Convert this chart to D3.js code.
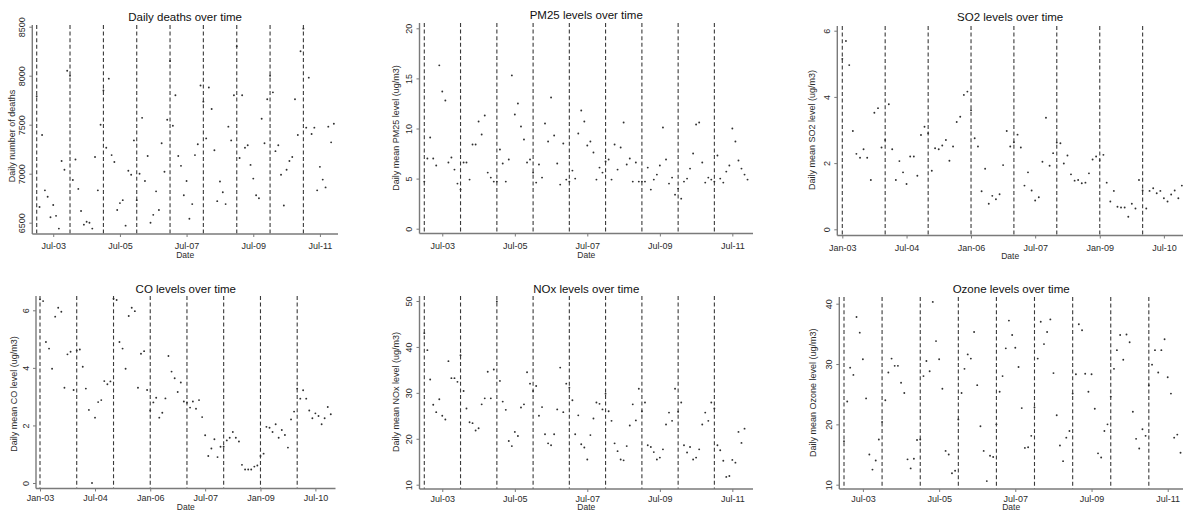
<!DOCTYPE html>
<html>
<head>
<meta charset="utf-8">
<script src="https://cdn.jsdelivr.net/npm/d3@7"></script>
<style>
  body { margin: 0; background: #fff; }
  svg { display: block; font-family: "Liberation Sans", Arial, sans-serif; }
</style>
</head>
<body>
<div id="chart"></div>
<script>
/* six monthly scatter panels with dashed year lines */

// monthly series, first value = Jan 2003
const deaths = [7790, 6660, 7395, 6830, 6765, 6555, 6680, 6570, 6440, 7130, 7040, 8050,
  8000, 6935, 7145, 6845, 6620, 6480, 6510, 6500, 6440, 7170, 6830, 7500,
  7850, 7265, 7970, 7190, 7120, 6630, 6700, 6730, 6470, 7030, 6990, 7340,
  6730, 7000, 7570, 6925, 7180, 6500, 6580, 6820, 6630, 7310, 7020, 7550,
  8150, 7490, 7800, 7180, 7080, 6780, 6925, 6540, 6690, 7190, 7300, 7900,
  7735, 7360, 7880, 7660, 7240, 6720, 6920, 6810, 6690, 7480, 7340, 7800,
  8300, 7160, 7800, 7265, 7290, 7090, 6950, 6780, 6750, 7560, 7310, 7760,
  8000, 7830, 7230, 7290, 6990, 6675, 7040, 7130, 7170, 7760, 7395, 8250,
  8480, 7470, 7980, 7405, 7470, 6830, 7070, 6940, 6860, 7480, 7320, 7510];

const pm25 = [4.7, 7.0, 9.1, 7.0, 6.3, 16.3, 13.7, 12.8, 6.6, 7.1, 5.9, 4.5,
  3.9, 6.6, 6.6, 4.9, 8.4, 8.4, 10.7, 9.4, 11.3, 5.6, 5.1, 4.7,
  4.7, 7.9, 6.5, 4.7, 6.9, 15.3, 11.4, 12.5, 10.2, 8.9, 6.6, 6.9,
  5.6, 4.6, 6.4, 5.1, 10.5, 8.7, 13.1, 9.3, 6.5, 4.4, 8.5, 4.9,
  4.7, 5.8, 5.0, 9.5, 11.8, 10.7, 8.3, 8.7, 7.6, 4.9, 6.1, 5.6,
  6.7, 6.9, 4.9, 8.4, 5.9, 8.1, 10.6, 6.4, 7.0, 4.7, 6.6, 4.7,
  4.7, 4.7, 6.1, 3.9, 4.9, 5.4, 6.3, 10.1, 6.9, 4.5, 5.1, 3.4,
  4.0, 3.0, 4.7, 5.0, 6.0, 7.5, 10.4, 10.6, 6.6, 4.6, 5.1, 4.9,
  4.7, 7.3, 5.0, 4.6, 5.7, 6.3, 10.0, 8.7, 6.8, 6.0, 5.4, 4.9];

const so2 = [5.15, 5.69, 4.96, 2.97, 2.28, 2.16, 2.42, 2.16, 1.49, 3.52, 3.66, 2.47,
  2.70, 3.78, 2.42, 1.49, 2.06, 1.72, 1.37, 2.20, 2.20, 1.62, 2.85, 3.10,
  2.90, 1.77, 2.45, 2.42, 2.53, 2.70, 2.07, 2.50, 3.24, 3.40, 4.06, 4.16,
  3.60, 2.75, 2.50, 1.15, 1.83, 0.77, 1.01, 0.91, 1.06, 1.94, 2.97, 2.50,
  2.63, 2.86, 2.47, 1.32, 1.72, 1.17, 0.87, 0.97, 2.04, 3.37, 1.92, 2.30,
  2.62, 2.60, 1.99, 2.23, 1.66, 1.47, 1.49, 1.39, 1.41, 1.69, 2.11, 2.20,
  2.09, 2.25, 1.41, 0.84, 1.16, 0.68, 0.66, 0.66, 0.38, 0.77, 0.63, 1.49,
  1.17, 0.63, 1.16, 1.24, 1.09, 1.16, 0.94, 0.84, 1.05, 1.17, 0.94, 1.32];

const co = [6.38, 6.32, 4.90, 4.67, 3.97, 5.78, 6.09, 5.95, 3.31, 4.47, 4.56, 3.23,
  4.60, 4.64, 4.04, 3.28, 2.54, 0.00, 2.27, 2.81, 2.88, 3.54, 3.43, 3.53,
  6.40, 6.36, 4.90, 4.67, 3.97, 5.80, 6.09, 5.97, 3.31, 4.49, 4.58, 3.23,
  2.52, 2.80, 2.96, 2.27, 2.44, 2.94, 4.41, 3.87, 3.64, 3.16, 3.49, 2.83,
  2.79, 2.62, 2.83, 2.58, 2.88, 2.29, 1.66, 0.94, 1.20, 1.52, 0.90, 1.26,
  1.26, 1.48, 1.57, 1.77, 1.57, 1.44, 0.63, 0.47, 0.47, 0.47, 0.57, 0.61,
  0.94, 1.02, 1.95, 1.92, 1.77, 2.04, 1.57, 1.84, 1.67, 1.23, 2.21, 2.48,
  3.28, 2.93, 3.22, 2.93, 2.52, 2.25, 2.42, 2.33, 2.04, 2.25, 2.64, 2.39];

const nox = [43.0, 39.3, 32.9, 27.4, 25.8, 28.6, 25.0, 24.2, 36.9, 33.2, 33.2, 32.4,
  38.2, 30.4, 26.6, 23.6, 23.4, 21.8, 22.3, 27.5, 28.8, 34.6, 28.8, 35.1,
  49.9, 32.6, 28.1, 26.3, 19.5, 18.4, 21.5, 20.6, 26.8, 27.5, 34.5, 32.0,
  30.4, 31.5, 25.0, 26.9, 21.0, 19.0, 18.6, 21.0, 26.4, 35.5, 25.8, 32.0,
  31.1, 28.4, 21.0, 25.1, 18.8, 18.1, 15.5, 20.8, 24.4, 27.9, 27.6, 26.4,
  29.8, 26.0, 23.9, 19.0, 17.3, 15.5, 15.3, 18.4, 22.9, 27.5, 24.0, 30.9,
  26.0, 27.9, 18.6, 18.2, 17.1, 15.5, 15.9, 17.7, 23.1, 25.7, 23.9, 30.9,
  25.9, 27.9, 18.6, 17.0, 18.2, 15.5, 15.9, 17.7, 23.1, 25.7, 23.9, 27.9,
  26.6, 18.6, 17.5, 15.2, 11.7, 11.9, 15.4, 14.8, 21.5, 19.1, 22.2];

const ozone = [17.2, 23.8, 29.4, 28.2, 37.8, 35.2, 30.8, 24.3, 15.0, 12.5, 14.0, 17.5,
  20.4, 24.0, 28.6, 30.9, 29.7, 29.7, 26.9, 25.2, 14.2, 12.7, 14.3, 17.4,
  17.5, 28.0, 30.5, 28.8, 40.3, 33.8, 30.8, 25.9, 15.6, 15.0, 11.9, 12.3,
  20.8, 25.2, 29.2, 31.6, 30.9, 35.3, 26.5, 19.7, 15.6, 10.6, 14.8, 14.6,
  20.0, 25.4, 28.0, 32.6, 37.2, 34.8, 32.7, 29.5, 22.7, 16.1, 16.2, 18.1,
  22.8, 30.9, 37.0, 33.3, 35.3, 37.4, 28.5, 21.5, 16.5, 13.9, 17.8, 18.9,
  25.1, 28.3, 36.6, 35.6, 28.4, 25.4, 28.3, 22.6, 15.2, 14.5, 18.9, 20.0,
  24.6, 29.2, 32.3, 34.8, 30.7, 34.9, 33.6, 22.1, 17.6, 16.0, 19.2, 18.1,
  26.5, 29.9, 32.3, 28.6, 32.3, 34.1, 27.8, 25.1, 17.8, 18.3, 15.3];

// tick labels
const julTicks = ["Jul-03", "Jul-05", "Jul-07", "Jul-09", "Jul-11"];
const mixTicks = ["Jan-03", "Jul-04", "Jan-06", "Jul-07", "Jan-09", "Jul-10"];
const deathTicks = [6500, 7000, 7500, 8000, 8500];
const pm25Ticks = [0, 5, 10, 15, 20];
const so2Ticks = [0, 2, 4, 6];
const coTicks = [0, 2, 4, 6];
const noxTicks = [10, 20, 30, 40, 50];
const ozoneTicks = [10, 20, 30, 40];

const start = new Date(2003, 0, 1);
const parseTick = d3.timeParse("%b-%y");

const panels = [
  { title: "Daily deaths over time", yTitle: "Daily number of deaths", values: deaths,
    yDomain: [6500, 8500], yTicks: deathTicks, xTicks: julTicks, lastYear: 2012,
    left: 32.3, right: 338, top: 25, bottom: 234, xr: [36.7, 336.7], yr: [222.7, 26.7],
    titleY: 17, yTitleX: 12, yTitleY: 136, xPad: 6, dateY: 255 },
  { title: "PM25 levels over time", yTitle: "Daily mean PM25 level (ug/m3)", values: pm25,
    yDomain: [0, 20], yTicks: pm25Ticks, xTicks: julTicks, lastYear: 2012,
    left: 419.5, right: 753, top: 23, bottom: 233.5, xr: [424.3, 750.6], yr: [228.7, 28.3],
    titleY: 14.5, yTitleX: 396, yTitleY: 128, xPad: 6, dateY: 255 },
  { title: "SO2 levels over time", yTitle: "Daily mean SO2 level (ug/m3)", values: so2,
    yDomain: [0, 6], yTicks: so2Ticks, xTicks: mixTicks, lastYear: 2011,
    left: 837.3, right: 1195, top: 26, bottom: 235.5, xr: [842.3, 1185.5], yr: [229.3, 30.7],
    titleY: 16.5, yTitleX: 812.3, yTitleY: 130, xPad: 6, dateY: 256 },
  { title: "CO levels over time", yTitle: "Daily mean CO level (ug/m3)", values: co,
    yDomain: [0, 6], yTicks: coTicks, xTicks: mixTicks, lastYear: 2011,
    left: 36, right: 335.5, top: 296, bottom: 488.5, xr: [40, 333.9], yr: [483, 310.3],
    titleY: 288.5, yTitleX: 14, yTitleY: 394, xPad: 3.5, dateY: 507.5 },
  { title: "NOx levels over time", yTitle: "Daily mean NOx level (ug/m3)", values: nox,
    yDomain: [10, 50], yTicks: noxTicks, xTicks: julTicks, lastYear: 2012,
    left: 419.5, right: 753, top: 296, bottom: 489, xr: [424.3, 750.6], yr: [484.7, 301],
    titleY: 288.5, yTitleX: 396, yTitleY: 392, xPad: 3.5, dateY: 507.5 },
  { title: "Ozone levels over time", yTitle: "Daily mean Ozone level (ug/m3)", values: ozone,
    yDomain: [10, 40], yTicks: ozoneTicks, xTicks: julTicks, lastYear: 2012,
    left: 839.3, right: 1195, top: 297, bottom: 489, xr: [844, 1186.9], yr: [484.7, 303.7],
    titleY: 288.5, yTitleX: 813.3, yTitleY: 392.7, xPad: 3.5, dateY: 507.5 }
];

const svg = d3.select("#chart").append("svg")
  .attr("width", 1183)
  .attr("height", 512);

const axisColor = "#7a7a7a";
const textColor = "#2b2b2b";

panels.forEach(p => {
  const x = d3.scaleTime().domain([start, new Date(p.lastYear, 0, 1)]).range(p.xr);
  const y = d3.scaleLinear().domain(p.yDomain).range(p.yr);
  const data = p.values.map((v, i) => ({ date: d3.timeMonth.offset(start, i), value: v }));
  const g = svg.append("g");
  const midX = (p.left + p.right) / 2 + (p.right > 1183 ? -6 : 0);

  // dashed lines at each January
  const years = d3.timeYear.range(start, new Date(p.lastYear, 0, 1));
  g.selectAll(".yr").data(years).join("line")
    .attr("x1", d => x(d)).attr("x2", d => x(d))
    .attr("y1", p.top).attr("y2", p.bottom)
    .attr("stroke", "#3a3a3a")
    .attr("stroke-width", 1.1)
    .attr("stroke-dasharray", "4,2.6");

  // points
  g.selectAll(".pt").data(data).join("circle")
    .attr("cx", d => x(d.date))
    .attr("cy", d => y(d.value))
    .attr("r", 0.95)
    .attr("fill", "#303030");

  // y axis
  const ya = g.append("g")
    .attr("transform", `translate(${p.left},0)`)
    .call(d3.axisLeft(y).tickValues(p.yTicks).tickSize(3).tickFormat(d3.format("d")));
  ya.select(".domain").remove();
  ya.selectAll("line").attr("stroke", axisColor);
  ya.selectAll("text")
    .attr("transform", "rotate(-90)")
    .attr("x", 0).attr("y", -7.5).attr("dy", 0)
    .style("text-anchor", "middle")
    .attr("fill", textColor)
    .style("font-size", "9px");

  // x axis
  const xa = g.append("g")
    .attr("transform", `translate(0,${p.bottom})`)
    .call(d3.axisBottom(x).tickValues(p.xTicks.map(parseTick)).tickSize(3)
      .tickPadding(p.xPad).tickFormat(d3.timeFormat("%b-%y")));
  xa.select(".domain").remove();
  xa.selectAll("line").attr("stroke", axisColor);
  xa.selectAll("text").attr("fill", textColor).style("font-size", "9px");

  // axis lines spanning the plot region
  g.append("line")
    .attr("x1", p.left).attr("x2", p.left)
    .attr("y1", p.top).attr("y2", p.bottom)
    .attr("stroke", axisColor).attr("stroke-width", 1.4);
  g.append("line")
    .attr("x1", p.left).attr("x2", p.right)
    .attr("y1", p.bottom).attr("y2", p.bottom)
    .attr("stroke", axisColor).attr("stroke-width", 1.4);

  // titles
  g.append("text")
    .attr("x", midX)
    .attr("y", p.titleY)
    .attr("dy", "0.35em")
    .attr("text-anchor", "middle")
    .attr("fill", "#111")
    .style("font-size", "11.5px")
    .text(p.title);

  g.append("text")
    .attr("transform", `translate(${p.yTitleX},${p.yTitleY}) rotate(-90)`)
    .attr("dy", "0.35em")
    .attr("text-anchor", "middle")
    .attr("fill", textColor)
    .style("font-size", "9px")
    .text(p.yTitle);

  g.append("text")
    .attr("x", midX)
    .attr("y", p.dateY)
    .attr("dy", "0.35em")
    .attr("text-anchor", "middle")
    .attr("fill", textColor)
    .style("font-size", "8.5px")
    .text("Date");
});
</script>
</body>
</html>
